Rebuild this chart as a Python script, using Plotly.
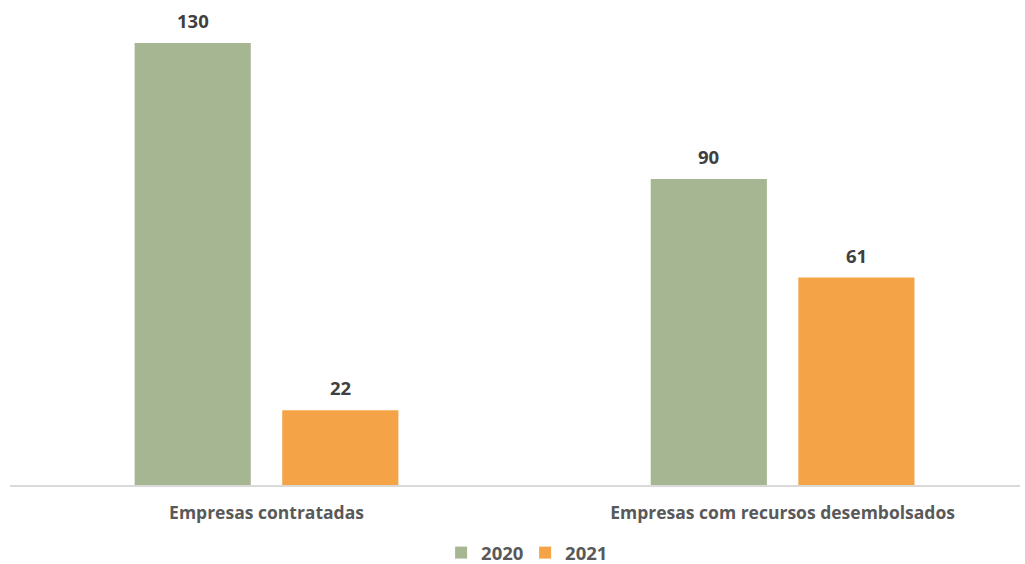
import plotly.graph_objects as go

categories = ["Empresas contratadas", "Empresas com recursos desembolsados"]
series_names = ["2020", "2021"]
values_2020 = [130, 90]
values_2021 = [22, 61]
colors = ["#a7b692", "#f4a447"]

FONT = "Open Sans"

fig = go.Figure()
series = [values_2020, values_2021]
for name, vals, col in zip(series_names, series, colors):
    fig.add_trace(go.Bar(
        x=categories, y=vals, name=name, marker=dict(color=col, line=dict(width=0)),
    ))

# data labels above bars (offset per series within the group)
offsets = [-73.75, 73.75]
for vals, dx in zip(series, offsets):
    for cat, v in zip(categories, vals):
        fig.add_annotation(x=cat, y=v, xref="x", yref="y", text=str(v), showarrow=False,
                           xshift=dx, yanchor="bottom", yshift=8,
                           font=dict(family=FONT, size=18.5, color="#404040", weight="bold"))

fig.update_layout(
    width=1025, height=564,
    margin=dict(l=10, r=5, t=9, b=79, autoexpand=False),
    paper_bgcolor="white", plot_bgcolor="white",
    barmode="group", bargap=0.428, bargroupgap=0.213,
    showlegend=True,
    legend=dict(orientation="h", x=0.51, xanchor="center", y=-0.143, yanchor="middle",
                font=dict(family=FONT, size=18.5, color="#595959", weight="bold"),
                itemwidth=30, entrywidth=39, entrywidthmode="pixels", traceorder="normal"),
    xaxis=dict(range=[-0.497, 1.46], showline=True, linecolor="#d9d9d9", linewidth=1.5,
               ticks="", ticklabelstandoff=11, automargin=False,
               tickfont=dict(family=FONT, size=17.5, color="#595959", weight="bold")),
    yaxis=dict(range=[0, 140], visible=False, showgrid=False, zeroline=False, automargin=False),
)

fig.write_html("out.html", config={"displayModeBar": False},
               post_script="document.body.style.margin='0';")
